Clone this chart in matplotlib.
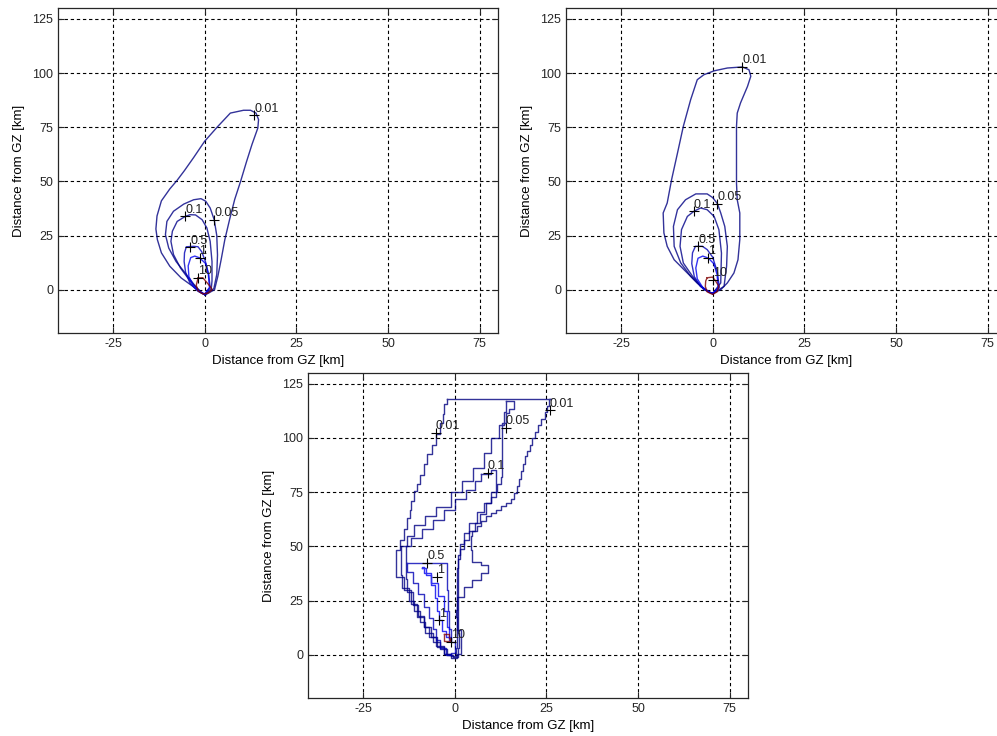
import matplotlib.pyplot as plt
from matplotlib.colors import Normalize

plt.rcParams['font.family'] = ['Liberation Sans', 'DejaVu Sans']
plt.rcParams['font.size'] = 9
plt.rcParams['axes.unicode_minus'] = False

# ---- panel A (top left) ----
a_001_x = [0.3, 2.7, 3.6, 4.5, 5.5, 6.8, 8.2, 9.8, 11.4, 12.9, 14.5, 14.7, 14.0, 12.5, 10.6, 7.0, 3.4, 0.0, -3.0, -5.5, -7.5, -9.5, -11.8, -13.0, -13.3, -12.9, -11.8, -9.5, -6.4, -3.2, -1.0, 0.3]
a_001_y = [-2.3, 0.0, 6.2, 13.9, 23.1, 32.4, 41.7, 50.0, 59.0, 67.0, 74.6, 78.5, 81.5, 82.8, 82.8, 81.5, 75.0, 68.5, 61.0, 55.0, 50.5, 46.5, 41.0, 34.0, 28.0, 23.1, 17.0, 10.8, 5.4, 1.5, -1.5, -2.3]
a_005_x = [0.0, 2.5, 3.3, 3.5, 3.3, 2.6, 1.5, 0.3, -1.0, -3.0, -5.7, -8.5, -10.3, -10.7, -9.8, -7.8, -5.0, -2.5, -0.8, 0.0]
a_005_y = [-2.3, 0.5, 7.0, 16.0, 25.0, 32.3, 37.7, 40.8, 42.0, 41.5, 39.5, 36.2, 31.5, 25.4, 19.2, 13.0, 7.0, 1.5, -1.5, -2.3]
a_01_x = [0.0, 1.8, 2.0, 2.0, 1.5, 0.6, -0.7, -2.5, -4.0, -5.3, -7.5, -8.8, -9.2, -8.5, -6.6, -3.9, -1.2, 0.0]
a_01_y = [-2.3, 0.5, 4.0, 13.0, 22.3, 28.5, 32.3, 34.5, 34.6, 33.8, 31.5, 27.0, 22.3, 16.2, 10.0, 3.8, -0.8, -2.3]
a_05_x = [0.0, 1.5, 1.1, 0.2, -0.8, -1.8, -3.0, -5.0, -5.5, -5.6, -5.2, -4.0, -1.8, 0.0]
a_05_y = [-2.2, 1.0, 7.0, 13.0, 17.5, 19.8, 20.0, 19.8, 17.0, 13.0, 8.0, 3.0, -0.8, -2.2]
a_1_x = [0.0, 1.3, 1.0, 0.3, -1.4, -2.7, -3.8, -4.5, -4.3, -3.0, -1.2, 0.0]
a_1_y = [-2.0, 1.0, 7.0, 12.0, 14.7, 15.5, 14.8, 11.0, 6.0, 1.5, -1.0, -2.0]
a_10_x = [-1.8, -0.5, 0.5, 1.5, 2.0, 1.0, -0.5, -1.8, -2.3, -1.8]
a_10_y = [5.4, 5.5, 3.5, 1.5, 0.0, -1.5, -2.0, -0.5, 2.0, 5.4]
a_lab_txt = ['0.01', '0.05', '0.1', '0.5', '1', '10']
a_lab_x = [13.5, 2.6, -5.3, -3.9, -1.4, -1.8]
a_lab_y = [80.5, 32.3, 33.8, 19.5, 14.7, 5.4]

# ---- panel B (top right) ----
b_001_x = [0.3, 2.2, 4.0, 5.8, 6.9, 7.4, 7.4, 6.7, 6.5, 6.5, 6.7, 7.6, 9.5, 10.4, 9.9, 8.1, 4.0, 0.4, -2.4, -4.2, -6.0, -8.0, -9.6, -11.2, -12.4, -13.5, -13.3, -12.4, -10.5, -7.8, -4.2, -1.9, -0.5, 0.3]
b_001_y = [-1.5, 0.0, 3.1, 7.7, 13.8, 23.1, 35.4, 41.5, 49.2, 75.4, 81.5, 86.2, 93.8, 98.5, 101.5, 102.8, 102.3, 101.0, 99.2, 96.9, 87.7, 75.4, 63.0, 50.8, 40.0, 35.4, 26.2, 20.0, 13.8, 9.2, 3.1, 0.0, -1.5, -1.5]
b_005_x = [0.0, 3.1, 3.8, 4.0, 3.3, 2.2, 1.3, 0.0, -1.5, -4.6, -7.4, -9.6, -10.7, -10.5, -8.7, -6.0, -3.3, -0.5, 0.0]
b_005_y = [-1.8, 1.5, 10.8, 20.0, 29.2, 35.4, 39.7, 42.5, 44.2, 44.2, 41.5, 36.9, 29.2, 20.0, 12.3, 6.2, 1.5, -1.5, -1.8]
b_01_x = [0.0, 2.2, 2.4, 1.7, 0.4, -1.5, -3.3, -5.1, -6.9, -8.5, -8.9, -8.0, -5.5, -2.4, 0.0]
b_01_y = [-1.8, 3.1, 16.9, 27.7, 33.8, 36.9, 37.7, 36.2, 33.8, 27.7, 20.0, 12.3, 6.2, 0.0, -1.8]
b_05_x = [0.0, 1.8, 1.3, 0.0, -1.5, -2.8, -4.7, -5.5, -5.7, -5.0, -3.3, -1.0, 0.0]
b_05_y = [-1.8, 1.0, 8.0, 15.0, 18.5, 20.0, 20.0, 17.0, 12.0, 6.0, 1.5, -1.2, -1.8]
b_1_x = [0.0, 1.5, 1.2, 0.3, -1.2, -2.7, -4.0, -4.6, -4.2, -2.7, -0.8, 0.0]
b_1_y = [-1.8, 1.0, 7.0, 12.0, 14.6, 15.5, 14.5, 10.0, 5.0, 1.0, -1.2, -1.8]
b_10_x = [-1.5, 0.0, 0.8, 1.7, 1.2, 0.0, -1.5, -2.0, -1.9, -1.5]
b_10_y = [5.5, 5.8, 4.0, 1.5, -1.0, -2.2, -1.0, 1.5, 4.0, 5.5]
b_lab_txt = ['0.01', '0.05', '0.1', '0.5', '1', '10']
b_lab_x = [8.1, 1.3, -5.1, -3.9, -1.2, 0.1]
b_lab_y = [102.8, 39.7, 36.2, 20.0, 14.6, 4.6]

# ---- panel C (bottom) ----
c_001_x = [-2.0, 26.2, 25.6, 25.1, 24.5, 23.6, 22.8, 21.9, 21.2, 20.5, 19.8, 19.2, 18.6, 18.0, 17.5, 17.1, 16.2, 15.3, 14.0, 12.5, 11.2, 9.8, 8.5, 7.1, 6.0, 4.8, 4.4, 4.4, 4.8, 7.1, 9.1, 9.1, 7.1, 4.8, 2.5, 0.7, 0.3, 0.7, 1.6, 1.8, 0.7, -1.1, -2.9, -4.7, -6.5, -8.4, -10.2, -12.0, -13.8, -15.9, -15.9, -14.8, -13.8, -12.9, -12.3, -11.8, -11.1, -10.3, -9.5, -8.5, -7.5, -6.3, -5.2, -4.0, -3.1, -2.9, -2.0]
c_001_y = [118.2, 118.2, 115.0, 112.0, 109.0, 106.0, 103.0, 100.0, 97.0, 94.0, 91.5, 88.0, 85.0, 81.0, 78.0, 74.7, 72.0, 70.0, 68.5, 67.0, 65.5, 63.8, 61.5, 59.2, 57.0, 54.6, 51.0, 48.4, 43.0, 41.4, 39.1, 37.6, 34.5, 31.4, 26.7, 20.6, 17.5, 11.3, 5.1, 0.5, -1.4, 0.5, 3.6, 8.2, 12.8, 17.5, 23.6, 29.8, 36.0, 39.1, 48.4, 53.0, 58.0, 63.1, 67.0, 71.0, 75.5, 79.0, 83.0, 88.0, 92.5, 97.0, 101.8, 107.0, 111.0, 115.7, 118.2]
c_005_x = [14.0, 16.3, 16.3, 14.8, 14.0, 13.0, 13.0, 12.5, 11.5, 10.0, 8.5, 7.0, 5.5, 4.0, 2.5, 1.5, 1.0, 0.8, 0.8, 1.0, 1.2, 0.8, -0.5, -2.0, -4.0, -6.0, -8.0, -9.5, -11.0, -12.5, -14.5, -14.7, -14.7, -13.0, -11.0, -8.0, -5.0, -1.0, 2.0, 5.0, 8.0, 10.0, 12.0, 13.5, 14.0]
c_005_y = [117.2, 117.2, 113.5, 111.5, 107.0, 105.0, 82.0, 79.0, 75.0, 70.0, 65.0, 61.0, 57.0, 53.0, 49.0, 44.0, 38.0, 30.0, 20.0, 10.0, 3.0, -1.0, 0.0, 2.5, 6.0, 10.0, 15.0, 20.0, 25.0, 31.0, 37.0, 40.0, 50.0, 55.0, 60.0, 64.0, 68.0, 75.0, 80.0, 86.0, 93.0, 100.0, 106.0, 112.0, 117.2]
c_01_x = [7.1, 9.8, 11.2, 11.2, 10.0, 8.0, 6.0, 4.0, 2.5, 1.5, 0.8, 0.5, 0.5, 0.7, 0.7, 0.3, -1.0, -3.0, -5.0, -7.0, -8.5, -10.0, -11.5, -13.0, -13.3, -13.3, -12.0, -9.0, -6.0, -3.0, 0.0, 3.0, 5.5, 7.1]
c_01_y = [83.2, 85.1, 84.0, 73.0, 70.0, 66.0, 61.0, 56.0, 51.0, 46.0, 40.0, 30.0, 20.0, 10.0, 3.0, -0.5, 0.5, 4.0, 8.0, 13.0, 18.0, 23.0, 29.0, 35.0, 40.0, 50.0, 54.0, 58.0, 62.0, 67.0, 72.0, 76.0, 80.0, 83.2]
c_05_x = [-12.9, -2.0, -2.0, -1.8, -1.5, -1.0, 0.0, -1.0, -2.5, -4.0, -5.0, -6.0, -7.0, -8.5, -10.0, -11.5, -12.9]
c_05_y = [42.5, 42.5, 30.0, 20.0, 12.0, 6.0, 1.0, 0.0, 3.0, 7.0, 12.0, 17.0, 22.0, 28.0, 33.0, 38.0, 42.5]
c_1_x = [-9.0, -7.8, -6.5, -5.5, -4.8, -4.3, -3.5, -2.5, -1.5, -1.0, -1.5, -2.2, -3.0, -4.5, -6.5, -8.5, -9.0]
c_1_y = [40.0, 37.0, 32.0, 26.0, 20.0, 16.0, 11.0, 8.0, 7.0, 8.0, 13.0, 20.0, 27.0, 33.0, 37.5, 40.5, 40.0]
c_10_x = [-2.9, -1.6, -1.6, -1.2, -2.0, -2.9, -2.9]
c_10_y = [9.7, 9.7, 7.5, 6.5, 6.3, 7.0, 9.7]
c_lab_txt = ['0.01', '0.01', '0.05', '0.1', '0.5', '1', '1', '10']
c_lab_x = [25.9, -5.2, 13.9, 9.0, -7.5, -4.9, -4.3, -1.1]
c_lab_y = [112.8, 102.5, 104.8, 84.0, 42.5, 36.0, 15.9, 5.9]

xticks = [-25, 0, 25, 50, 75]
yticks = [0, 25, 50, 75, 100, 125]

W, H = 997, 736
fig = plt.figure(figsize=(W / 100, H / 100), dpi=100)
norm = Normalize(0, 10)


def panel(rect, curves, lab_txt, lab_x, lab_y, steps=False):
    ax = fig.add_axes([rect[0] / W, 1 - (rect[1] + rect[3]) / H, rect[2] / W, rect[3] / H])
    ax.set_xlim(-40, 80)
    ax.set_ylim(-20, 130)
    ax.set_xticks(xticks)
    ax.set_yticks(yticks)
    ax.grid(True, color='black', linestyle=(0, (3, 2.5)), linewidth=0.8)
    ax.tick_params(direction='in', length=4, top=True, right=True, colors='#262626', labelsize=9)
    for s in ax.spines.values():
        s.set_color('#262626')
        s.set_linewidth(0.9)
    for level, xs, ys in curves:
        ax.plot(xs, ys, color=plt.cm.jet(norm(level)), lw=1.0, alpha=0.8,
                drawstyle='steps-post' if steps else 'default')
    ax.plot(lab_x, lab_y, '+', color='black', ms=7, mew=0.8, ls='none')
    for t, x, y in zip(lab_txt, lab_x, lab_y):
        ax.annotate(t, (x, y), xytext=(0, 0.5), textcoords='offset points',
                    ha='left', va='bottom', fontsize=9, color='#202020')
    ax.set_xlabel('Distance from GZ [km]', labelpad=4, fontsize=9.5)
    ax.set_ylabel('Distance from GZ [km]', labelpad=5, fontsize=9.5)
    return ax


panel((58, 8, 440, 325),
      [(0.01, a_001_x, a_001_y), (0.05, a_005_x, a_005_y), (0.1, a_01_x, a_01_y),
       (0.5, a_05_x, a_05_y), (1, a_1_x, a_1_y), (10, a_10_x, a_10_y)],
      a_lab_txt, a_lab_x, a_lab_y)
panel((566, 8, 440, 325),
      [(0.01, b_001_x, b_001_y), (0.05, b_005_x, b_005_y), (0.1, b_01_x, b_01_y),
       (0.5, b_05_x, b_05_y), (1, b_1_x, b_1_y), (10, b_10_x, b_10_y)],
      b_lab_txt, b_lab_x, b_lab_y)
panel((308, 373, 440, 325),
      [(0.01, c_001_x, c_001_y), (0.05, c_005_x, c_005_y), (0.1, c_01_x, c_01_y),
       (0.5, c_05_x, c_05_y), (1, c_1_x, c_1_y), (10, c_10_x, c_10_y)],
      c_lab_txt, c_lab_x, c_lab_y, steps=True)

fig.savefig('out.png', dpi=100)
